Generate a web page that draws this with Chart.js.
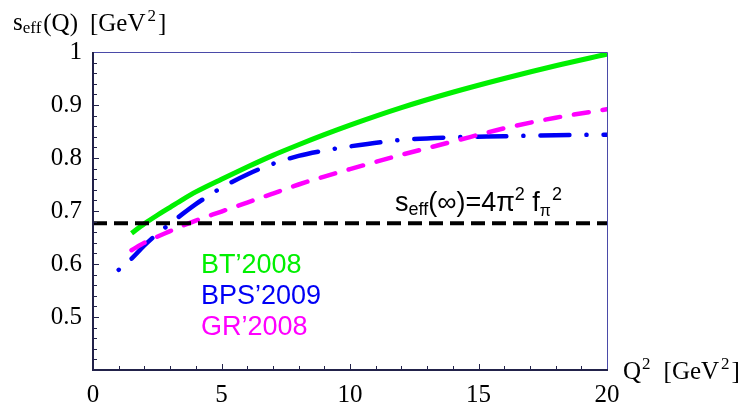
<!DOCTYPE html>
<html>
<head>
<meta charset="utf-8">
<script src="https://cdn.jsdelivr.net/npm/chart.js@4"></script>
<style>
  html, body { margin: 0; padding: 0; background: #fff; }
  #wrap { width: 742px; height: 406px; }
</style>
</head>
<body>
<div id="wrap"><canvas id="myChart" width="742" height="406"></canvas></div>
<script>
// Chart data

var xTicks = [0, 5, 10, 15, 20];
var yTicks = [0.5, 0.6, 0.7, 0.8, 0.9, 1];

var btQ = [1.5, 2, 2.5, 3, 3.5, 4, 5, 6, 7, 8, 9, 10, 12, 14, 16, 18, 20];
var btS = [0.658, 0.676, 0.692, 0.707, 0.722, 0.736, 0.760, 0.783, 0.805, 0.825, 0.844, 0.862, 0.895, 0.924, 0.950, 0.974, 0.996];

var bpsQ = [1, 1.5, 2, 2.5, 3, 3.5, 4, 4.5, 5, 6, 7, 8, 9, 10, 12, 14, 16, 18, 20];
var bpsS = [0.589, 0.610, 0.635, 0.657, 0.676, 0.695, 0.713, 0.729, 0.744, 0.769, 0.789, 0.804, 0.814, 0.822, 0.834, 0.839, 0.841, 0.843, 0.844];

var grQ = [1.5, 2, 3, 4, 5, 6, 7, 8, 9, 10, 12, 14, 16, 18, 20];
var grS = [0.626, 0.640, 0.662, 0.682, 0.699, 0.716, 0.733, 0.750, 0.765, 0.779, 0.806, 0.831, 0.856, 0.876, 0.892];

var asymQ = [0, 20];
var asymS = [0.677, 0.677];

var seriesNames = ["BT\u20192008", "BPS\u20192009", "GR\u20192008"];
var seriesColors = ["rgb(0,240,0)", "rgb(0,0,245)", "rgb(255,0,255)"];

function pts(xs, ys) {
	var out = [];
	for (var i = 0; i < xs.length; i++) out.push({x: xs[i], y: ys[i]});
	return out;
}

var SANS = "Liberation Sans, Arial, Helvetica, sans-serif";
var SERIF = "Liberation Serif, Times New Roman, serif";

Chart.defaults.font.family = SERIF;

// draws a run of text pieces, each with its own size and baseline shift
function drawRich(ctx, x, y, parts, family, color) {
	ctx.save();
	ctx.fillStyle = color;
	ctx.textBaseline = "alphabetic";
	ctx.textAlign = "left";
	for (var i = 0; i < parts.length; i++) {
		var p = parts[i];
		x += (p.dx || 0);
		ctx.font = p.size + "px " + family;
		ctx.fillText(p.t, x, y + (p.dy || 0));
		x += ctx.measureText(p.t).width;
	}
	ctx.restore();
}

var decor = {
	id: "decor",
	afterDatasetsDraw: function(chart) {
		var ctx = chart.ctx;
		var a = chart.chartArea;
		var xs = chart.scales.x, ys = chart.scales.y;

		// frame
		ctx.save();
		ctx.lineWidth = 1;
		ctx.strokeStyle = "#4a4aa8";
		ctx.beginPath();
		ctx.moveTo(a.left, a.top + 0.5);
		ctx.lineTo(a.right + 0.5, a.top + 0.5);
		ctx.lineTo(a.right + 0.5, a.bottom);
		ctx.stroke();
		ctx.lineWidth = 2;
		ctx.strokeStyle = "#22224a";
		ctx.beginPath();
		ctx.moveTo(a.left, a.top);
		ctx.lineTo(a.left, a.bottom);
		ctx.lineTo(a.right + 1, a.bottom);
		ctx.stroke();

		// inward ticks
		ctx.lineWidth = 1;
		ctx.beginPath();
		for (var q = 1; q < 20; q++) {
			var px = Math.round(xs.getPixelForValue(q)) + 0.5;
			var len = (q % 5 == 0) ? 6 : 4;
			ctx.moveTo(px, a.bottom);
			ctx.lineTo(px, a.bottom - len);
		}
		for (var k = 21; k < 50; k++) {
			var v = k / 50;
			var py = Math.round(ys.getPixelForValue(v)) + 0.5;
			var l2 = (k % 5 == 0) ? 6 : 4;
			ctx.moveTo(a.left, py);
			ctx.lineTo(a.left + l2, py);
		}
		ctx.stroke();
		ctx.restore();

		// axis titles
		drawRich(ctx, 13, 31, [
			{t: "s", size: 25, dy: -1},
			{t: "eff", size: 17, dy: 2},
			{t: "(Q)", size: 25, dx: 2},
			{t: "[GeV", size: 25, dx: 12},
			{t: "2", size: 17, dy: -10, dx: 2},
			{t: "]", size: 25, dx: 2}
		], SERIF, "#000");
		drawRich(ctx, 623, 379, [
			{t: "Q", size: 25},
			{t: "2", size: 17, dy: -10, dx: 1},
			{t: "[GeV", size: 25, dx: 13},
			{t: "2", size: 17, dy: -10, dx: 2},
			{t: "]", size: 25, dx: 2}
		], SERIF, "#000");

		// in-plot labels
		drawRich(ctx, 395, 211, [
			{t: "s", size: 27},
			{t: "eff", size: 18, dy: 4},
			{t: "(\u221E)=4\u03C0", size: 27},
			{t: "2", size: 18, dy: -11},
			{t: " f", size: 27},
			{t: "\u03C0", size: 16, dy: 5},
			{t: "2", size: 18, dy: -11, dx: 1}
		], SANS, "#000");

		var baseY = [273, 304, 335];
		for (var i = 0; i < seriesNames.length; i++) {
			drawRich(ctx, 201, baseY[i], [{t: seriesNames[i], size: 27}], SANS, seriesColors[i]);
		}
	}
};

var Ctxt = document.getElementById("myChart").getContext("2d");

var ChartInst = new Chart(Ctxt, {
	type: "line",
	data: {
		datasets: [{
			label: "asymptote",
			data: pts(asymQ, asymS),
			borderColor: "#000",
			borderWidth: 4,
			borderDash: [14, 7],
			borderCapStyle: "butt",
			pointRadius: 0,
			tension: 0
			},
			{
			label: seriesNames[2],
			data: pts(grQ, grS),
			borderColor: seriesColors[2],
			borderWidth: 4.5,
			borderDash: [15, 14],
			borderCapStyle: "round",
			pointRadius: 0,
			cubicInterpolationMode: "monotone"
			},
			{
			label: seriesNames[1],
			data: pts(bpsQ, bpsS),
			borderColor: seriesColors[1],
			borderWidth: 4.5,
			borderDash: [0.1, 17, 29, 17],
			borderCapStyle: "round",
			pointRadius: 0,
			cubicInterpolationMode: "monotone"
			},
			{
			label: seriesNames[0],
			data: pts(btQ, btS),
			borderColor: seriesColors[0],
			borderWidth: 5,
			pointRadius: 0,
			cubicInterpolationMode: "monotone"
			}]
		},
	options: {
		animation: false,
		responsive: false,
		events: [],
		layout: {
			padding: {top: 52, right: 135, left: 0, bottom: 0}
			},
		plugins: {
			legend: {display: false},
			tooltip: {enabled: false}
			},
		scales: {
			x: {
				type: "linear",
				min: 0,
				max: 20,
				grid: {display: false, drawTicks: false},
				border: {display: false},
				afterBuildTicks: function(s) {
					s.ticks = xTicks.map(function(v) { return {value: v}; });
					},
				afterFit: function(s) { s.height = 36; },
				ticks: {
					padding: 10,
					maxRotation: 0,
					color: "#000",
					font: {family: SERIF, size: 25},
					callback: function(v) { return String(v); }
					}
				},
			y: {
				type: "linear",
				min: 0.4,
				max: 1,
				grid: {display: false, drawTicks: false},
				border: {display: false},
				afterBuildTicks: function(s) {
					s.ticks = yTicks.map(function(v) { return {value: v}; });
					},
				afterFit: function(s) { s.width = 93; },
				ticks: {
					padding: 11,
					color: "#000",
					font: {family: SERIF, size: 25},
					callback: function(v) { return String(Math.round(v * 10) / 10); }
					}
				}
			}
		},
	plugins: [decor]
	});
</script>
</body>
</html>
